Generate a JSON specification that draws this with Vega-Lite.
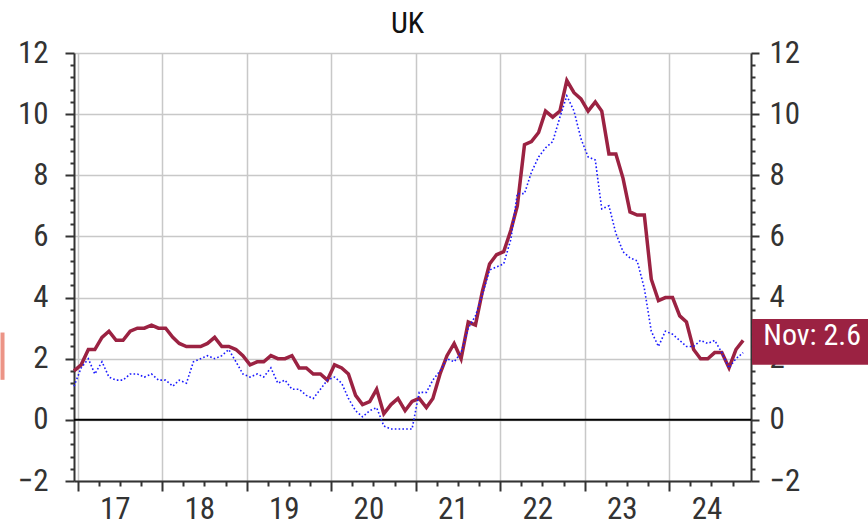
{
  "$schema": "https://vega.github.io/schema/vega-lite/v6.json",
  "width": 677,
  "height": 428,
  "autosize": {"type": "none"},
  "padding": {"left": 74, "top": 53, "right": 117, "bottom": 45},
  "background": "white",
  "config": {
    "view": {"stroke": null},
    "font": "Liberation Sans Narrow, Roboto Condensed, Noto Sans Condensed, DejaVu Sans Condensed, sans-serif",
    "axis": {
      "labelFont": "Liberation Sans Narrow, Roboto Condensed, Noto Sans Condensed, DejaVu Sans Condensed, sans-serif",
      "labelFontSize": 31,
      "labelColor": "#333333",
      "domainColor": "#333333",
      "tickColor": "#333333",
      "gridColor": "#c8c8c8",
      "gridWidth": 1.5,
      "domainWidth": 2,
      "tickWidth": 2,
      "title": null,
      "labelOverlap": false,
      "labelBound": false,
      "labelFlush": false
    }
  },
  "title": {
    "text": "UK",
    "fontSize": 30,
    "font": "Liberation Sans Narrow, Roboto Condensed, Noto Sans Condensed, DejaVu Sans Condensed, sans-serif",
    "fontWeight": "normal",
    "color": "#111111",
    "anchor": "middle",
    "frame": "group",
    "dx": -5,
    "offset": -26,
    "baseline": "alphabetic"
  },
  "datasets": {
    "cpi": [
      {"date": "2016-12-15", "uk": 1.6, "ea": 1.1},
      {"date": "2017-01-15", "uk": 1.8, "ea": 1.7},
      {"date": "2017-02-15", "uk": 2.3, "ea": 2.0},
      {"date": "2017-03-15", "uk": 2.3, "ea": 1.5},
      {"date": "2017-04-15", "uk": 2.7, "ea": 1.9},
      {"date": "2017-05-15", "uk": 2.9, "ea": 1.4},
      {"date": "2017-06-15", "uk": 2.6, "ea": 1.3},
      {"date": "2017-07-15", "uk": 2.6, "ea": 1.3},
      {"date": "2017-08-15", "uk": 2.9, "ea": 1.5},
      {"date": "2017-09-15", "uk": 3.0, "ea": 1.5},
      {"date": "2017-10-15", "uk": 3.0, "ea": 1.4},
      {"date": "2017-11-15", "uk": 3.1, "ea": 1.5},
      {"date": "2017-12-15", "uk": 3.0, "ea": 1.3},
      {"date": "2018-01-15", "uk": 3.0, "ea": 1.3},
      {"date": "2018-02-15", "uk": 2.7, "ea": 1.1},
      {"date": "2018-03-15", "uk": 2.5, "ea": 1.3},
      {"date": "2018-04-15", "uk": 2.4, "ea": 1.2},
      {"date": "2018-05-15", "uk": 2.4, "ea": 1.9},
      {"date": "2018-06-15", "uk": 2.4, "ea": 2.0},
      {"date": "2018-07-15", "uk": 2.5, "ea": 2.1},
      {"date": "2018-08-15", "uk": 2.7, "ea": 2.0},
      {"date": "2018-09-15", "uk": 2.4, "ea": 2.1},
      {"date": "2018-10-15", "uk": 2.4, "ea": 2.3},
      {"date": "2018-11-15", "uk": 2.3, "ea": 1.9},
      {"date": "2018-12-15", "uk": 2.1, "ea": 1.5},
      {"date": "2019-01-15", "uk": 1.8, "ea": 1.4},
      {"date": "2019-02-15", "uk": 1.9, "ea": 1.5},
      {"date": "2019-03-15", "uk": 1.9, "ea": 1.4},
      {"date": "2019-04-15", "uk": 2.1, "ea": 1.7},
      {"date": "2019-05-15", "uk": 2.0, "ea": 1.2},
      {"date": "2019-06-15", "uk": 2.0, "ea": 1.3},
      {"date": "2019-07-15", "uk": 2.1, "ea": 1.0},
      {"date": "2019-08-15", "uk": 1.7, "ea": 1.0},
      {"date": "2019-09-15", "uk": 1.7, "ea": 0.8},
      {"date": "2019-10-15", "uk": 1.5, "ea": 0.7},
      {"date": "2019-11-15", "uk": 1.5, "ea": 1.0},
      {"date": "2019-12-15", "uk": 1.3, "ea": 1.3},
      {"date": "2020-01-15", "uk": 1.8, "ea": 1.4},
      {"date": "2020-02-15", "uk": 1.7, "ea": 1.2},
      {"date": "2020-03-15", "uk": 1.5, "ea": 0.7},
      {"date": "2020-04-15", "uk": 0.8, "ea": 0.3},
      {"date": "2020-05-15", "uk": 0.5, "ea": 0.1},
      {"date": "2020-06-15", "uk": 0.6, "ea": 0.3},
      {"date": "2020-07-15", "uk": 1.0, "ea": 0.4},
      {"date": "2020-08-15", "uk": 0.2, "ea": -0.2},
      {"date": "2020-09-15", "uk": 0.5, "ea": -0.3},
      {"date": "2020-10-15", "uk": 0.7, "ea": -0.3},
      {"date": "2020-11-15", "uk": 0.3, "ea": -0.3},
      {"date": "2020-12-15", "uk": 0.6, "ea": -0.3},
      {"date": "2021-01-15", "uk": 0.7, "ea": 0.9},
      {"date": "2021-02-15", "uk": 0.4, "ea": 0.9},
      {"date": "2021-03-15", "uk": 0.7, "ea": 1.3},
      {"date": "2021-04-15", "uk": 1.5, "ea": 1.6},
      {"date": "2021-05-15", "uk": 2.1, "ea": 2.0},
      {"date": "2021-06-15", "uk": 2.5, "ea": 1.9},
      {"date": "2021-07-15", "uk": 2.0, "ea": 2.2},
      {"date": "2021-08-15", "uk": 3.2, "ea": 3.0},
      {"date": "2021-09-15", "uk": 3.1, "ea": 3.4},
      {"date": "2021-10-15", "uk": 4.2, "ea": 4.1},
      {"date": "2021-11-15", "uk": 5.1, "ea": 4.9},
      {"date": "2021-12-15", "uk": 5.4, "ea": 5.0},
      {"date": "2022-01-15", "uk": 5.5, "ea": 5.1},
      {"date": "2022-02-15", "uk": 6.2, "ea": 5.9},
      {"date": "2022-03-15", "uk": 7.0, "ea": 7.4},
      {"date": "2022-04-15", "uk": 9.0, "ea": 7.4},
      {"date": "2022-05-15", "uk": 9.1, "ea": 8.1},
      {"date": "2022-06-15", "uk": 9.4, "ea": 8.6},
      {"date": "2022-07-15", "uk": 10.1, "ea": 8.9},
      {"date": "2022-08-15", "uk": 9.9, "ea": 9.1},
      {"date": "2022-09-15", "uk": 10.1, "ea": 9.9},
      {"date": "2022-10-15", "uk": 11.1, "ea": 10.6},
      {"date": "2022-11-15", "uk": 10.7, "ea": 10.1},
      {"date": "2022-12-15", "uk": 10.5, "ea": 9.2},
      {"date": "2023-01-15", "uk": 10.1, "ea": 8.6},
      {"date": "2023-02-15", "uk": 10.4, "ea": 8.5},
      {"date": "2023-03-15", "uk": 10.1, "ea": 6.9},
      {"date": "2023-04-15", "uk": 8.7, "ea": 7.0},
      {"date": "2023-05-15", "uk": 8.7, "ea": 6.1},
      {"date": "2023-06-15", "uk": 7.9, "ea": 5.5},
      {"date": "2023-07-15", "uk": 6.8, "ea": 5.3},
      {"date": "2023-08-15", "uk": 6.7, "ea": 5.2},
      {"date": "2023-09-15", "uk": 6.7, "ea": 4.3},
      {"date": "2023-10-15", "uk": 4.6, "ea": 2.9},
      {"date": "2023-11-15", "uk": 3.9, "ea": 2.4},
      {"date": "2023-12-15", "uk": 4.0, "ea": 2.9},
      {"date": "2024-01-15", "uk": 4.0, "ea": 2.8},
      {"date": "2024-02-15", "uk": 3.4, "ea": 2.6},
      {"date": "2024-03-15", "uk": 3.2, "ea": 2.4},
      {"date": "2024-04-15", "uk": 2.3, "ea": 2.4},
      {"date": "2024-05-15", "uk": 2.0, "ea": 2.6},
      {"date": "2024-06-15", "uk": 2.0, "ea": 2.5},
      {"date": "2024-07-15", "uk": 2.2, "ea": 2.6},
      {"date": "2024-08-15", "uk": 2.2, "ea": 2.2},
      {"date": "2024-09-15", "uk": 1.7, "ea": 1.7},
      {"date": "2024-10-15", "uk": 2.3, "ea": 2.0},
      {"date": "2024-11-15", "uk": 2.6, "ea": 2.2}
    ],
    "latest": [
      {"date": "2024-11-15", "value": 2.6, "label": "Nov: 2.6"}
    ],
    "first": [
      {"date": "2016-12-15", "value": 1.1}
    ]
  },
  "resolve": {"axis": {"x": "independent", "y": "independent"}},
  "layer": [
    {
      "data": {"name": "latest"},
      "mark": {"type": "rule", "color": "#000000", "strokeWidth": 2},
      "encoding": {
        "y": {"datum": 0, "type": "quantitative", "scale": {"domain": [-2, 12], "nice": false, "zero": false}, "axis": null}
      }
    },
    {
      "data": {"name": "cpi"},
      "mark": {"type": "line", "color": "#9b2242", "strokeWidth": 3.5, "strokeJoin": "miter"},
      "encoding": {
        "x": {
          "field": "date", "type": "temporal",
          "scale": {"type": "utc", "domain": [{"year": 2016, "month": 12, "date": 15, "utc": true}, {"year": 2024, "month": 12, "date": 19, "utc": true}]},
          "axis": {
            "orient": "bottom", "grid": true, "labels": false, "tickSize": 10, "domain": true,
            "values": [
              {"year": 2017, "month": 1, "date": 1, "utc": true},
              {"year": 2018, "month": 1, "date": 1, "utc": true},
              {"year": 2019, "month": 1, "date": 1, "utc": true},
              {"year": 2020, "month": 1, "date": 1, "utc": true},
              {"year": 2021, "month": 1, "date": 1, "utc": true},
              {"year": 2022, "month": 1, "date": 1, "utc": true},
              {"year": 2023, "month": 1, "date": 1, "utc": true},
              {"year": 2024, "month": 1, "date": 1, "utc": true}
            ]
          }
        },
        "y": {
          "field": "uk", "type": "quantitative",
          "scale": {"domain": [-2, 12], "nice": false, "zero": false},
          "axis": {"orient": "left", "values": [-2, 0, 2, 4, 6, 8, 10, 12], "grid": true, "tickSize": 9, "labelPadding": 17}
        }
      }
    },
    {
      "data": {"name": "cpi"},
      "mark": {"type": "line", "color": "#1a1aff", "strokeWidth": 1.6, "strokeDash": [1.6, 2.2]},
      "encoding": {
        "x": {
          "field": "date", "type": "temporal",
          "scale": {"type": "utc", "domain": [{"year": 2016, "month": 12, "date": 15, "utc": true}, {"year": 2024, "month": 12, "date": 19, "utc": true}]},
          "axis": {
            "orient": "bottom", "grid": false, "labels": false, "tickSize": 5, "domain": false,
            "values": [
              {"year": 2017, "month": 4, "date": 1, "utc": true}, {"year": 2017, "month": 7, "date": 1, "utc": true}, {"year": 2017, "month": 10, "date": 1, "utc": true},
              {"year": 2018, "month": 4, "date": 1, "utc": true}, {"year": 2018, "month": 7, "date": 1, "utc": true}, {"year": 2018, "month": 10, "date": 1, "utc": true},
              {"year": 2019, "month": 4, "date": 1, "utc": true}, {"year": 2019, "month": 7, "date": 1, "utc": true}, {"year": 2019, "month": 10, "date": 1, "utc": true},
              {"year": 2020, "month": 4, "date": 1, "utc": true}, {"year": 2020, "month": 7, "date": 1, "utc": true}, {"year": 2020, "month": 10, "date": 1, "utc": true},
              {"year": 2021, "month": 4, "date": 1, "utc": true}, {"year": 2021, "month": 7, "date": 1, "utc": true}, {"year": 2021, "month": 10, "date": 1, "utc": true},
              {"year": 2022, "month": 4, "date": 1, "utc": true}, {"year": 2022, "month": 7, "date": 1, "utc": true}, {"year": 2022, "month": 10, "date": 1, "utc": true},
              {"year": 2023, "month": 4, "date": 1, "utc": true}, {"year": 2023, "month": 7, "date": 1, "utc": true}, {"year": 2023, "month": 10, "date": 1, "utc": true},
              {"year": 2024, "month": 4, "date": 1, "utc": true}, {"year": 2024, "month": 7, "date": 1, "utc": true}, {"year": 2024, "month": 10, "date": 1, "utc": true}
            ]
          }
        },
        "y": {
          "field": "ea", "type": "quantitative",
          "scale": {"domain": [-2, 12], "nice": false, "zero": false},
          "axis": {"orient": "right", "values": [-2, 0, 2, 4, 6, 8, 10, 12], "grid": false, "tickSize": 8, "labelPadding": 10, "labelAlign": "left"}
        }
      }
    },
    {
      "data": {"name": "latest"},
      "mark": {"type": "point", "shape": "M0.148,-0.358H2.2V0.408H0.148Z", "size": 14400, "filled": true, "color": "#9b2242", "opacity": 1, "strokeWidth": 0},
      "encoding": {
        "x": {
          "field": "date", "type": "temporal",
          "scale": {"type": "utc", "domain": [{"year": 2016, "month": 12, "date": 15, "utc": true}, {"year": 2024, "month": 12, "date": 19, "utc": true}]},
          "axis": {
            "orient": "bottom", "grid": false, "tickSize": 0, "ticks": false, "domain": false, "format": "%y", "labelPadding": 13, "labelOffset": -5,
            "values": [
              {"year": 2017, "month": 7, "date": 1, "utc": true},
              {"year": 2018, "month": 7, "date": 1, "utc": true},
              {"year": 2019, "month": 7, "date": 1, "utc": true},
              {"year": 2020, "month": 7, "date": 1, "utc": true},
              {"year": 2021, "month": 7, "date": 1, "utc": true},
              {"year": 2022, "month": 7, "date": 1, "utc": true},
              {"year": 2023, "month": 7, "date": 1, "utc": true},
              {"year": 2024, "month": 7, "date": 1, "utc": true}
            ]
          }
        },
        "y": {
          "field": "value", "type": "quantitative",
          "scale": {"domain": [-2, 12], "nice": false, "zero": false},
          "axis": {"orient": "left", "labels": false, "grid": false, "domain": false, "tickSize": 4,
            "values": [-1.6, -1.2, -0.8, -0.4, 0.4, 0.8, 1.2, 1.6, 2.4, 2.8, 3.2, 3.6, 4.4, 4.8, 5.2, 5.6, 6.4, 6.8, 7.2, 7.6, 8.4, 8.8, 9.2, 9.6, 10.4, 10.8, 11.2, 11.6]}
        }
      }
    },
    {
      "data": {"name": "latest"},
      "mark": {"type": "text", "align": "center", "baseline": "alphabetic", "dx": 69, "dy": 5, "fontSize": 30, "color": "#ffffff", "font": "Liberation Sans Narrow, Roboto Condensed, Noto Sans Condensed, DejaVu Sans Condensed, sans-serif"},
      "encoding": {
        "x": {
          "field": "date", "type": "temporal",
          "scale": {"type": "utc", "domain": [{"year": 2016, "month": 12, "date": 15, "utc": true}, {"year": 2024, "month": 12, "date": 19, "utc": true}]},
          "axis": null
        },
        "y": {
          "field": "value", "type": "quantitative",
          "scale": {"domain": [-2, 12], "nice": false, "zero": false},
          "axis": {"orient": "right", "labels": false, "grid": false, "domain": false, "tickSize": 4,
            "values": [-1.6, -1.2, -0.8, -0.4, 0.4, 0.8, 1.2, 1.6, 2.4, 2.8, 3.2, 3.6, 4.4, 4.8, 5.2, 5.6, 6.4, 6.8, 7.2, 7.6, 8.4, 8.8, 9.2, 9.6, 10.4, 10.8, 11.2, 11.6]}
        },
        "text": {"field": "label", "type": "nominal"}
      }
    },
    {
      "data": {"name": "first"},
      "mark": {"type": "point", "shape": "M-1.225,-0.895H-1.158V-0.107H-1.225Z", "size": 14400, "filled": true, "color": "#ec9486", "opacity": 1, "strokeWidth": 0},
      "encoding": {
        "x": {
          "field": "date", "type": "temporal",
          "scale": {"type": "utc", "domain": [{"year": 2016, "month": 12, "date": 15, "utc": true}, {"year": 2024, "month": 12, "date": 19, "utc": true}]},
          "axis": null
        },
        "y": {
          "field": "value", "type": "quantitative",
          "scale": {"domain": [-2, 12], "nice": false, "zero": false},
          "axis": null
        }
      }
    }
  ]
}
